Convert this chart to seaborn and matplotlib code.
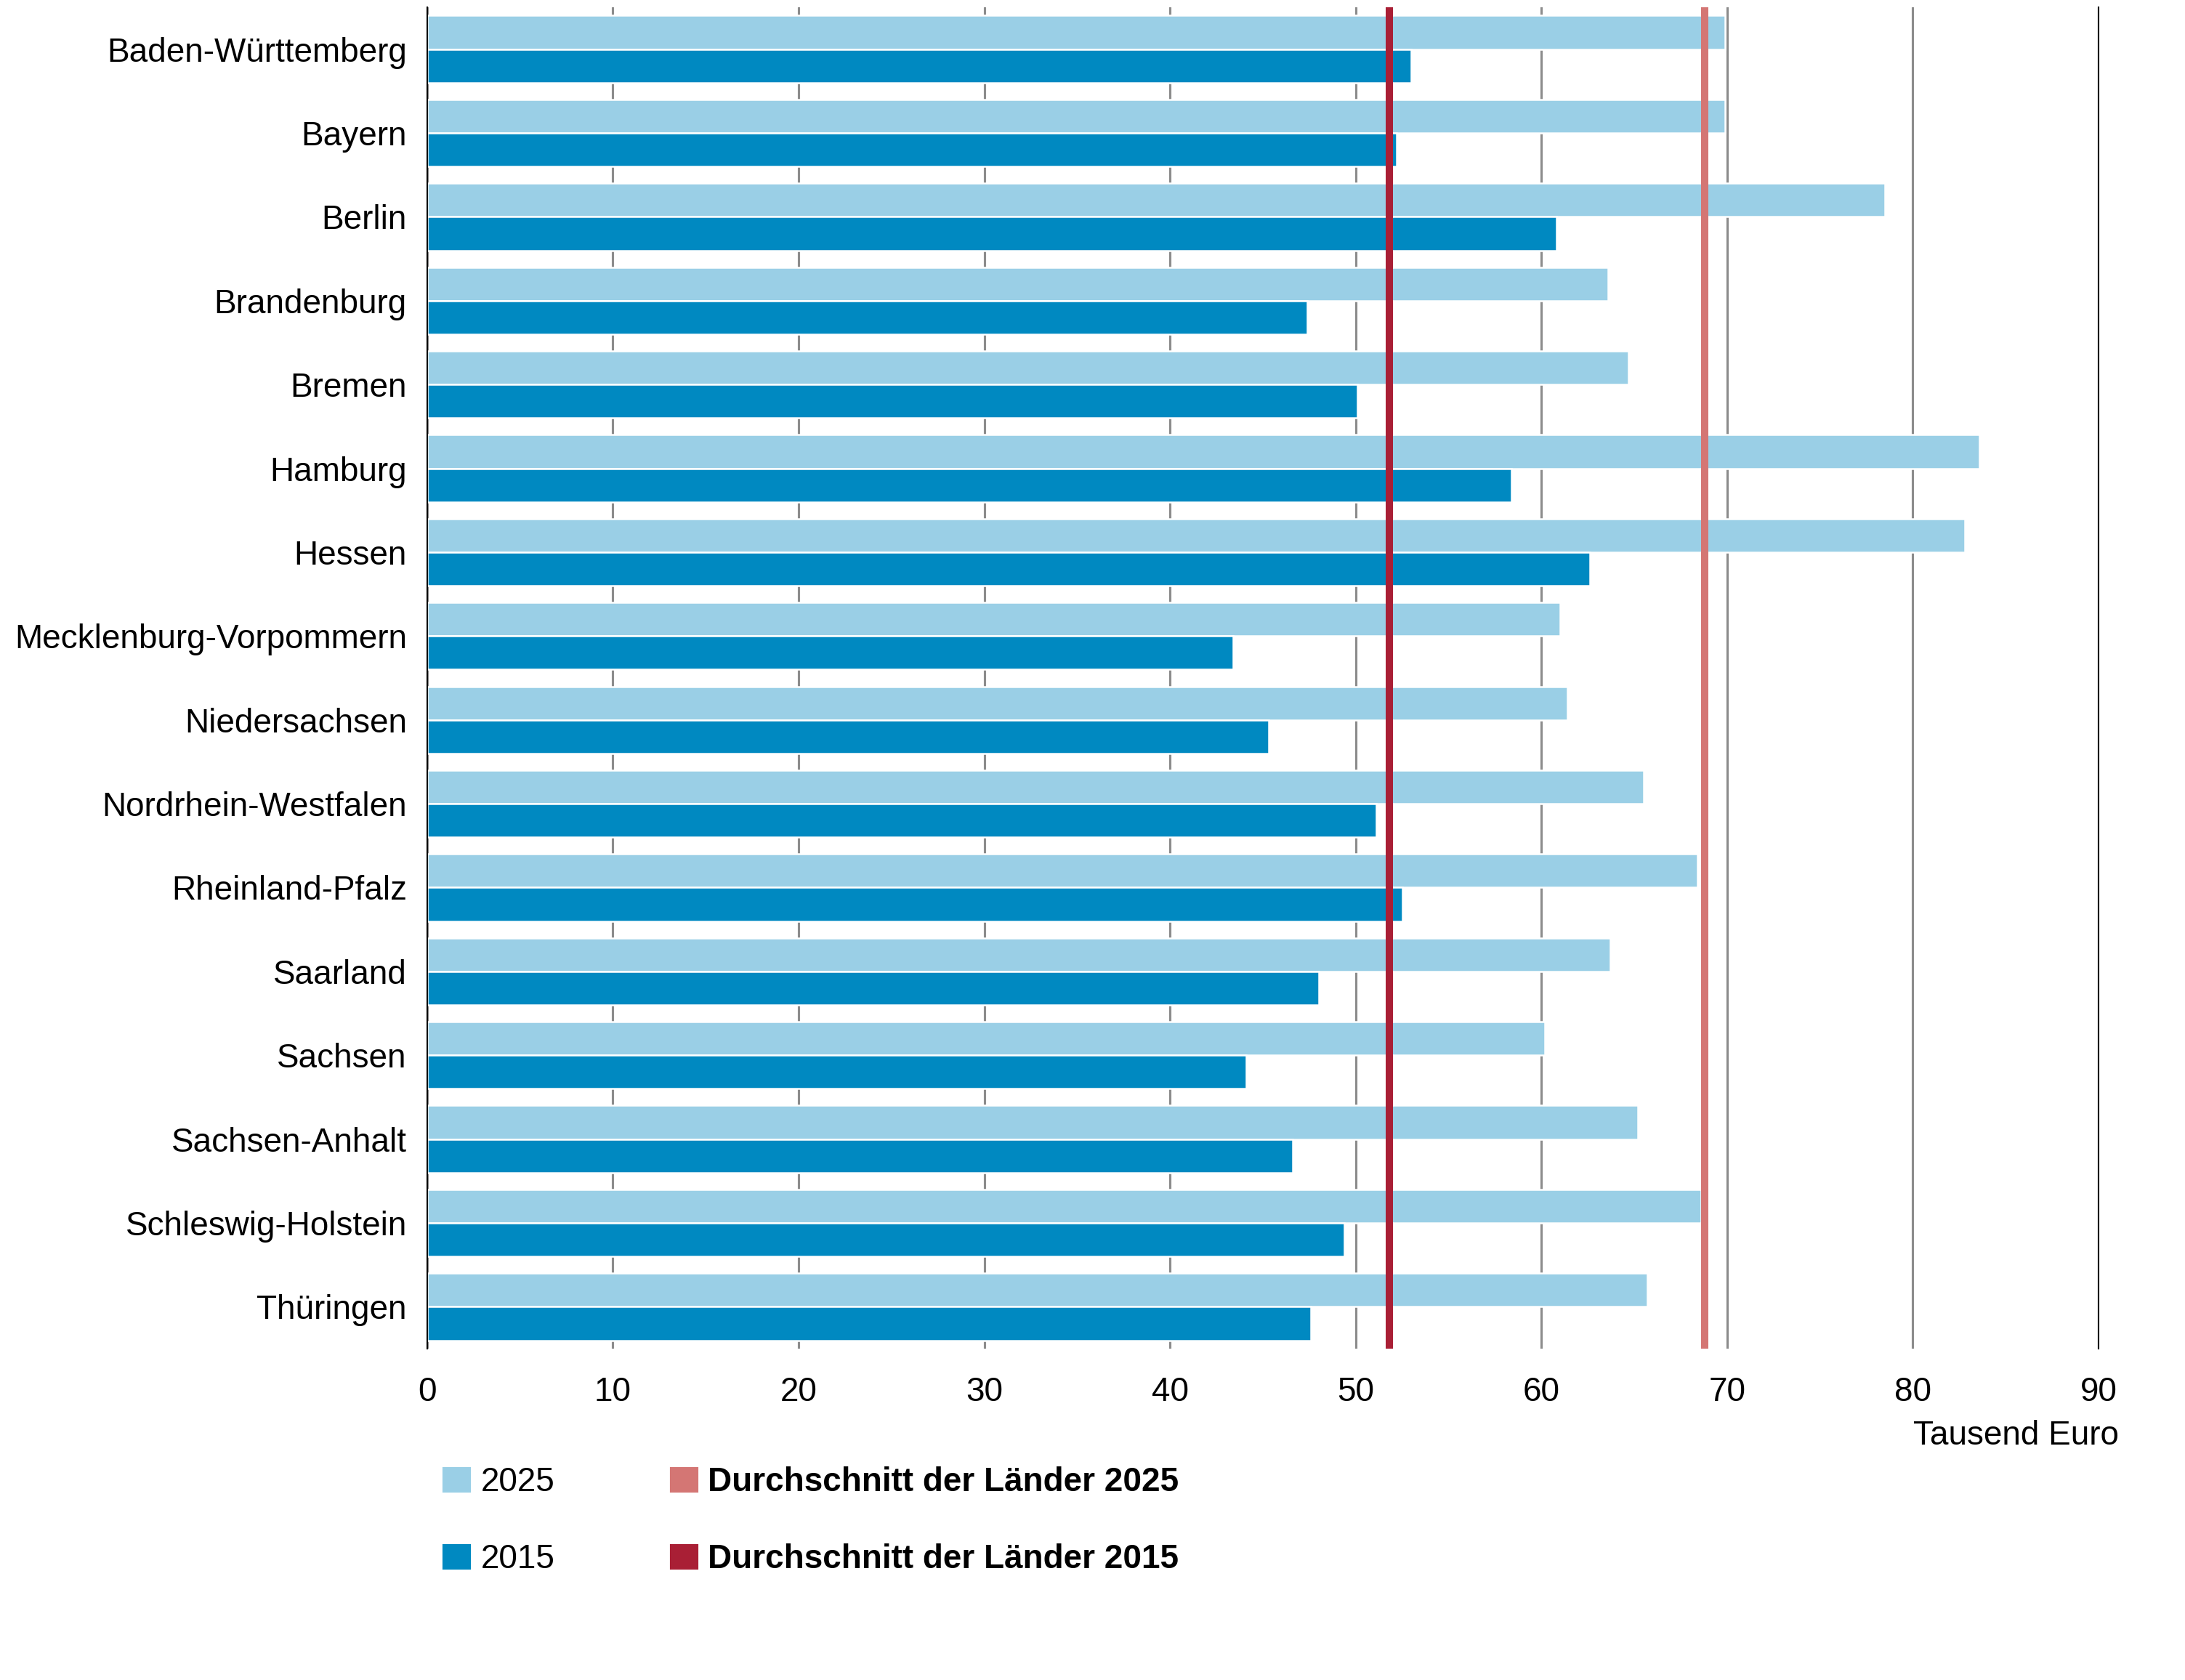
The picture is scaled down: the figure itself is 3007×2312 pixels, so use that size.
import numpy as np
import pandas as pd
import matplotlib
matplotlib.use("Agg")
import matplotlib.pyplot as plt
import seaborn as sns
from matplotlib.patches import Patch

# data (Tausend Euro)
laender = ["Baden-Württemberg", "Bayern", "Berlin", "Brandenburg", "Bremen",
           "Hamburg", "Hessen", "Mecklenburg-Vorpommern", "Niedersachsen",
           "Nordrhein-Westfalen", "Rheinland-Pfalz", "Saarland", "Sachsen",
           "Sachsen-Anhalt", "Schleswig-Holstein", "Thüringen"]
werte_2025 = [69.9, 69.9, 78.5, 63.6, 64.7, 83.6, 82.8, 61.0, 61.4,
              65.5, 68.4, 63.7, 60.2, 65.2, 68.6, 65.7]
werte_2015 = [53.0, 52.2, 60.8, 47.4, 50.1, 58.4, 62.6, 43.4, 45.3,
              51.1, 52.5, 48.0, 44.1, 46.6, 49.4, 47.6]
schnitt_2025 = 68.8
schnitt_2015 = 51.8
jahre = ["2025", "2015"]

hell = "#9acfe6"
dunkel = "#0089c1"
rosa = "#d47674"
rot = "#a91f35"

df = pd.DataFrame({
    "land": laender * 2,
    "wert": werte_2025 + werte_2015,
    "jahr": [jahre[0]] * len(laender) + [jahre[1]] * len(laender),
})

sns.set_theme(style="white")
plt.rcParams["font.family"] = ["Liberation Sans", "DejaVu Sans"]
plt.rcParams["text.color"] = "black"

fig = plt.figure(figsize=(3007 / 300, 2312 / 300), dpi=300)
ax = fig.add_axes([0.1955, 0.1972, 0.7649, 0.7985])

sns.barplot(data=df, y="land", x="wert", hue="jahr", hue_order=jahre,
            palette=[hell, dunkel], orient="h", width=0.8, saturation=1,
            edgecolor="white", linewidth=0.6, errorbar=None, legend=False, ax=ax)

ax.axvline(schnitt_2015, color=rot, lw=2.4, zorder=5)
ax.axvline(schnitt_2025, color=rosa, lw=2.4, zorder=5)

ax.set_xlim(0, 90)
ax.set_ylim(15.5, -0.5)
ax.set_xticks(range(0, 100, 10))
ax.xaxis.grid(True, color="#8c8c8c", lw=0.75)
ax.set_axisbelow(True)
for s in ["top", "bottom"]:
    ax.spines[s].set_visible(False)
for s in ["left", "right"]:
    ax.spines[s].set_color("black")
    ax.spines[s].set_linewidth(0.5)
ax.tick_params(axis="y", length=0, pad=6.7, labelsize=11, colors="black")
ax.tick_params(axis="x", length=0, pad=9, labelsize=11, colors="black")
ax.set_xlabel("")
ax.set_ylabel("")

fig.text(0.9697, 0.1452, "Tausend Euro", ha="right", va="center", fontsize=11)

handles = [Patch(color=hell), Patch(color=dunkel), Patch(color=rosa), Patch(color=rot)]
labels = ["2025", "2015", "Durchschnitt der Länder 2025", "Durchschnitt der Länder 2015"]
leg = fig.legend(handles, labels, loc="upper left", bbox_to_anchor=(0.2032, 0.127),
                 ncol=2, frameon=False, handlelength=0.77, handleheight=0.66,
                 handletextpad=0.33, columnspacing=3.5, labelspacing=1.35,
                 borderpad=0, borderaxespad=0, fontsize=11)
for t in leg.get_texts()[2:]:
    t.set_fontweight("bold")

fig.savefig("out.png", dpi=300)
